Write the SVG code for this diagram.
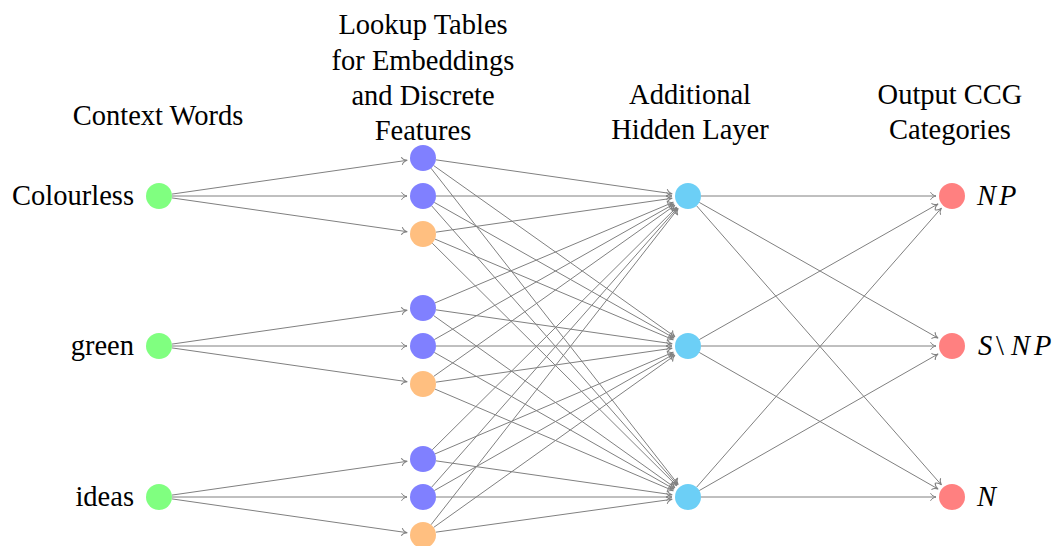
<svg xmlns="http://www.w3.org/2000/svg" width="1061" height="546" viewBox="0 0 1061 546">
<style>
text{font-family:'Liberation Serif','Times New Roman',serif;font-size:28.5px;fill:#000}
.h{text-anchor:middle}
.r{text-anchor:end}
.m{font-style:italic}
#edges line{stroke:#808080;stroke-width:1;marker-end:url(#arr)}
.in{fill:#80ff80}.emb{fill:#8080ff}.dis{fill:#ffbf80}.hid{fill:#6ccff6}.out{fill:#ff8080}
</style>
<defs>
<marker id="arr" markerUnits="userSpaceOnUse" orient="auto" markerWidth="14" markerHeight="14" refX="0" refY="0" viewBox="-8 -7 10 14" overflow="visible">
<path d="M-5.5,-3.8 C-4.5,-1.5 -1.5,-0.3 0,0 C-1.5,0.3 -4.5,1.5 -5.5,3.8" fill="none" stroke="#808080" stroke-width="1"/>
</marker>
</defs>
<rect width="1061" height="546" fill="#fff"/>
<g id="headers">
<text class="h" x="158" y="125">Context Words</text>
<text class="h" x="423" y="34">Lookup Tables</text>
<text class="h" x="423" y="70">for Embeddings</text>
<text class="h" x="423" y="105">and Discrete</text>
<text class="h" x="423" y="140">Features</text>
<text class="h" x="690" y="104">Additional</text>
<text class="h" x="690" y="139">Hidden Layer</text>
<text class="h" x="950" y="104">Output CCG</text>
<text class="h" x="950" y="139">Categories</text>
</g>
<g id="edges">
<line x1="171.9" y1="194.1" x2="407.2" y2="160.3"/>
<line x1="172" y1="196" x2="407" y2="196"/>
<line x1="171.9" y1="197.9" x2="407.2" y2="231.7"/>
<line x1="171.9" y1="344.1" x2="407.2" y2="310.3"/>
<line x1="172" y1="346" x2="407" y2="346"/>
<line x1="171.9" y1="347.9" x2="407.2" y2="381.7"/>
<line x1="171.9" y1="495.1" x2="407.2" y2="461.3"/>
<line x1="172" y1="497" x2="407" y2="497"/>
<line x1="171.9" y1="498.9" x2="407.2" y2="532.7"/>
<line x1="435.87" y1="159.84" x2="672.16" y2="193.73"/>
<line x1="436" y1="196" x2="672" y2="196"/>
<line x1="435.87" y1="232.16" x2="672.16" y2="198.27"/>
<line x1="434.97" y1="302.92" x2="673.27" y2="202.25"/>
<line x1="434.30" y1="339.58" x2="674.09" y2="203.90"/>
<line x1="433.59" y1="376.47" x2="674.96" y2="205.27"/>
<line x1="432.23" y1="449.84" x2="676.64" y2="207.27"/>
<line x1="431.59" y1="487.24" x2="677.43" y2="208.01"/>
<line x1="431.01" y1="524.76" x2="678.15" y2="208.61"/>
<line x1="433.59" y1="165.53" x2="674.96" y2="336.73"/>
<line x1="434.30" y1="202.42" x2="674.09" y2="338.10"/>
<line x1="434.97" y1="239.08" x2="673.27" y2="339.75"/>
<line x1="435.87" y1="309.84" x2="672.16" y2="343.73"/>
<line x1="436" y1="346" x2="672" y2="346"/>
<line x1="435.87" y1="382.16" x2="672.16" y2="348.27"/>
<line x1="434.97" y1="453.92" x2="673.27" y2="352.25"/>
<line x1="434.30" y1="490.58" x2="674.09" y2="353.90"/>
<line x1="433.59" y1="527.47" x2="674.96" y2="355.27"/>
<line x1="431.01" y1="168.24" x2="678.15" y2="484.39"/>
<line x1="431.59" y1="205.76" x2="677.43" y2="484.99"/>
<line x1="432.23" y1="243.16" x2="676.64" y2="485.73"/>
<line x1="433.59" y1="315.53" x2="674.96" y2="487.73"/>
<line x1="434.30" y1="352.42" x2="674.09" y2="489.10"/>
<line x1="434.97" y1="389.08" x2="673.27" y2="490.75"/>
<line x1="435.87" y1="460.84" x2="672.16" y2="494.73"/>
<line x1="436" y1="497" x2="672" y2="497"/>
<line x1="435.87" y1="532.16" x2="672.16" y2="499.27"/>
<line x1="701" y1="196" x2="936" y2="196"/>
<line x1="699.30" y1="202.42" x2="938.09" y2="338.10"/>
<line x1="696.57" y1="205.77" x2="941.45" y2="484.97"/>
<line x1="699.30" y1="339.58" x2="938.09" y2="203.90"/>
<line x1="701" y1="346" x2="936" y2="346"/>
<line x1="699.29" y1="352.45" x2="938.11" y2="489.06"/>
<line x1="696.57" y1="487.23" x2="941.45" y2="208.03"/>
<line x1="699.29" y1="490.55" x2="938.11" y2="353.94"/>
<line x1="701" y1="497" x2="936" y2="497"/>
</g>
<g id="in-colourless"><circle class="in" cx="159" cy="196" r="13"/><text class="r" x="134" y="205">Colourless</text></g>
<g id="in-green"><circle class="in" cx="159" cy="346" r="13"/><text class="r" x="134" y="355">green</text></g>
<g id="in-ideas"><circle class="in" cx="159" cy="497" r="13"/><text class="r" x="134" y="506">ideas</text></g>
<g id="lt1a"><circle class="emb" cx="423" cy="158" r="13"/></g>
<g id="lt1b"><circle class="emb" cx="423" cy="196" r="13"/></g>
<g id="lt1c"><circle class="dis" cx="423" cy="234" r="13"/></g>
<g id="lt2a"><circle class="emb" cx="423" cy="308" r="13"/></g>
<g id="lt2b"><circle class="emb" cx="423" cy="346" r="13"/></g>
<g id="lt2c"><circle class="dis" cx="423" cy="384" r="13"/></g>
<g id="lt3a"><circle class="emb" cx="423" cy="459" r="13"/></g>
<g id="lt3b"><circle class="emb" cx="423" cy="497" r="13"/></g>
<g id="lt3c"><circle class="dis" cx="423" cy="535" r="13"/></g>
<g id="h1"><circle class="hid" cx="688" cy="196" r="13"/></g>
<g id="h2"><circle class="hid" cx="688" cy="346" r="13"/></g>
<g id="h3"><circle class="hid" cx="688" cy="497" r="13"/></g>
<g id="out-np"><circle class="out" cx="952" cy="196" r="13"/><text class="m" x="977 999" y="205">NP</text></g>
<g id="out-snp"><circle class="out" cx="952" cy="346" r="13"/><text class="m" x="978 996 1011 1034" y="355">S<tspan font-style="normal">\</tspan>NP</text></g>
<g id="out-n"><circle class="out" cx="952" cy="497" r="13"/><text class="m" x="977" y="506">N</text></g>
</svg>
